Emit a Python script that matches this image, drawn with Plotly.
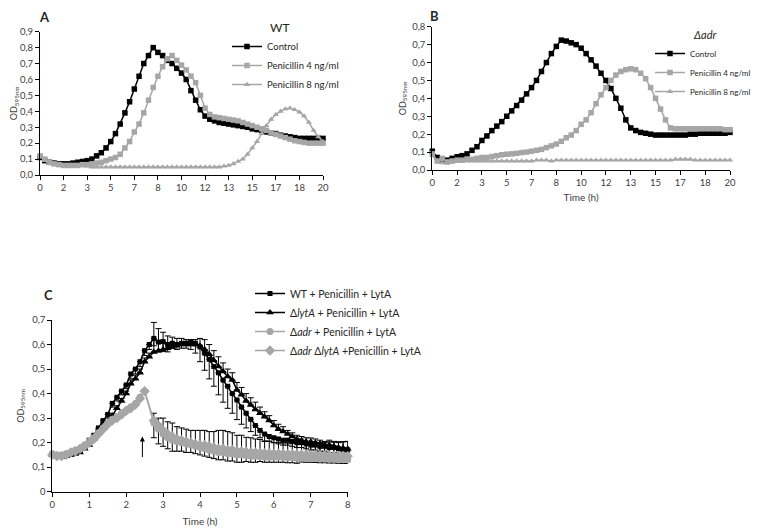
import plotly.graph_objects as go

# ---------------- Panel A (WT) : samples every 20 min, 0-20 h ----------------
time_A = [k / 3 for k in range(61)]
wt_control = [0.11, 0.09, 0.08, 0.075, 0.07, 0.07, 0.07, 0.075, 0.08, 0.085, 0.09, 0.10, 0.12, 0.14, 0.17,
              0.21, 0.26, 0.32, 0.39, 0.46, 0.54, 0.62, 0.70, 0.75, 0.80,
              0.77, 0.75, 0.72, 0.70, 0.67, 0.64, 0.60, 0.53, 0.47, 0.41, 0.37, 0.35, 0.34, 0.33, 0.325, 0.32,
              0.315, 0.31, 0.305, 0.30, 0.29, 0.285, 0.28, 0.27, 0.265, 0.26, 0.25, 0.245, 0.24, 0.235,
              0.23, 0.23, 0.23, 0.23, 0.23, 0.23]
wt_pen4 = [0.12, 0.10, 0.08, 0.07, 0.065, 0.06, 0.06, 0.06, 0.06, 0.065, 0.065, 0.07, 0.075, 0.08, 0.09,
           0.10, 0.11, 0.13, 0.17, 0.21, 0.27, 0.32, 0.39, 0.47, 0.55,
           0.62, 0.68, 0.73, 0.75, 0.72, 0.69, 0.66, 0.62, 0.58, 0.50, 0.42, 0.38, 0.365, 0.36, 0.355, 0.35,
           0.345, 0.34, 0.33, 0.32, 0.31, 0.30, 0.29, 0.28, 0.265, 0.255, 0.245, 0.235, 0.225, 0.215,
           0.21, 0.205, 0.20, 0.20, 0.20, 0.20]
wt_pen8 = [0.12, 0.09, 0.07, 0.065, 0.06, 0.06, 0.06, 0.06, 0.06, 0.06, 0.055, 0.05, 0.05, 0.05, 0.05,
           0.05, 0.05, 0.05, 0.05, 0.05, 0.05, 0.05, 0.05, 0.05, 0.05,
           0.05, 0.05, 0.05, 0.05, 0.05, 0.05, 0.05, 0.05, 0.05, 0.05, 0.05, 0.05, 0.05, 0.05, 0.055, 0.06,
           0.07, 0.085, 0.10, 0.13, 0.17, 0.21, 0.26, 0.31, 0.35, 0.38, 0.40, 0.415, 0.42, 0.41,
           0.395, 0.37, 0.33, 0.28, 0.24, 0.21]

# ---------------- Panel B (delta adr) ----------------
time_B = [k / 3 for k in range(61)]
adr_control = [0.105, 0.07, 0.05, 0.055, 0.065, 0.074, 0.08, 0.09, 0.11, 0.13, 0.165, 0.19, 0.22, 0.245, 0.27,
               0.30, 0.33, 0.36, 0.39, 0.425, 0.46, 0.50, 0.55, 0.60, 0.65,
               0.69, 0.725, 0.72, 0.71, 0.70, 0.68, 0.65, 0.615, 0.58, 0.54, 0.50, 0.455, 0.40, 0.345, 0.28, 0.235,
               0.22, 0.21, 0.205, 0.20, 0.195, 0.195, 0.195, 0.195, 0.195, 0.195, 0.195, 0.20, 0.20, 0.205,
               0.205, 0.205, 0.205, 0.205, 0.205, 0.21]
adr_pen4 = [0.09, 0.05, 0.065, 0.045, 0.05, 0.055, 0.055, 0.06, 0.06, 0.065, 0.07, 0.07, 0.075, 0.08, 0.085,
            0.088, 0.09, 0.093, 0.097, 0.10, 0.105, 0.11, 0.115, 0.125, 0.135,
            0.145, 0.16, 0.18, 0.195, 0.22, 0.255, 0.28, 0.32, 0.37, 0.42, 0.46, 0.50, 0.53, 0.55, 0.56, 0.565,
            0.56, 0.54, 0.51, 0.46, 0.40, 0.34, 0.28, 0.235, 0.23, 0.23, 0.23, 0.23, 0.23, 0.23,
            0.23, 0.23, 0.23, 0.23, 0.225, 0.225]
adr_pen8 = [0.08, 0.05, 0.04, 0.04, 0.045, 0.05, 0.05, 0.05, 0.05, 0.05, 0.05, 0.05, 0.05, 0.05, 0.05,
            0.05, 0.05, 0.05, 0.05, 0.05, 0.05, 0.055, 0.055, 0.055, 0.05,
            0.055, 0.055, 0.055, 0.055, 0.055, 0.055, 0.055, 0.055, 0.055, 0.055, 0.055, 0.055, 0.055, 0.055, 0.055, 0.055,
            0.055, 0.055, 0.055, 0.055, 0.055, 0.055, 0.055, 0.055, 0.06, 0.06, 0.06, 0.06, 0.055, 0.055,
            0.055, 0.055, 0.055, 0.055, 0.055, 0.055]

# ---------------- Panel C : samples every 7.5 min, 0-8 h ----------------
time_C = [k * 0.125 for k in range(65)]
c_wt = [0.155, 0.15, 0.145, 0.15, 0.155, 0.16, 0.17, 0.185, 0.21, 0.23, 0.26, 0.29, 0.315, 0.36, 0.385, 0.41,
        0.435, 0.48, 0.50, 0.53, 0.575, 0.60, 0.625, 0.61, 0.612, 0.60, 0.605, 0.60, 0.605, 0.605, 0.61, 0.605,
        0.59, 0.565, 0.54, 0.51, 0.485, 0.455, 0.43, 0.40, 0.374, 0.345, 0.32, 0.295, 0.27, 0.25, 0.235, 0.225,
        0.22, 0.215, 0.21, 0.21, 0.205, 0.20, 0.20, 0.195, 0.19, 0.19, 0.185, 0.185, 0.18, 0.18, 0.175, 0.17, 0.17]
c_wt_err = [0.01, 0.01, 0.01, 0.01, 0.01, 0.01, 0.01, 0.01, 0.01, 0.01, 0.01, 0.01, 0.015, 0.015, 0.015, 0.015,
            0.015, 0.02, 0.02, 0.02, 0.02, 0.02, 0.03, 0.04, 0.04, 0.03, 0.02, 0.02, 0.02, 0.02, 0.03, 0.04,
            0.06, 0.07, 0.08, 0.08, 0.09, 0.09, 0.09, 0.08, 0.08, 0.07, 0.06, 0.05, 0.04, 0.03, 0.03, 0.02,
            0.02, 0.02, 0.02, 0.02, 0.02, 0.02, 0.02, 0.02, 0.02, 0.02, 0.02, 0.02, 0.02, 0.02, 0.02, 0.02, 0.02]
c_lyta = [0.15, 0.145, 0.14, 0.145, 0.15, 0.155, 0.16, 0.175, 0.19, 0.215, 0.245, 0.265, 0.28, 0.31, 0.34, 0.37,
          0.40, 0.44, 0.46, 0.485, 0.53, 0.55, 0.57, 0.575, 0.58, 0.585, 0.59, 0.595, 0.60, 0.60, 0.60, 0.60,
          0.595, 0.58, 0.56, 0.535, 0.51, 0.49, 0.47, 0.455, 0.415, 0.395, 0.37, 0.353, 0.335, 0.32, 0.306, 0.29,
          0.27, 0.255, 0.245, 0.235, 0.225, 0.215, 0.21, 0.205, 0.204, 0.20, 0.195, 0.19, 0.19, 0.185, 0.18, 0.178, 0.175]
c_lyta_err = [0.01, 0.01, 0.01, 0.01, 0.01, 0.01, 0.01, 0.01, 0.01, 0.01, 0.01, 0.01, 0.01, 0.01, 0.01, 0.01,
              0.01, 0.015, 0.015, 0.015, 0.015, 0.015, 0.12, 0.09, 0.07, 0.05, 0.04, 0.03, 0.025, 0.02, 0.02, 0.02,
              0.03, 0.04, 0.04, 0.04, 0.04, 0.035, 0.03, 0.03, 0.03, 0.03, 0.03, 0.03, 0.03, 0.025, 0.02, 0.02,
              0.02, 0.02, 0.02, 0.015, 0.015, 0.015, 0.015, 0.015, 0.015, 0.015, 0.015, 0.015, 0.02, 0.02, 0.02, 0.025, 0.03]
c_adr = [0.155, 0.15, 0.15, 0.155, 0.16, 0.17, 0.175, 0.19, 0.205, 0.22, 0.24, 0.26, 0.28, 0.295, 0.305, 0.32,
         0.33, 0.345, 0.36, 0.385, 0.41, None, 0.28, 0.255, 0.235, 0.22, 0.21, 0.205, 0.20, 0.195, 0.19, 0.185,
         0.18, 0.175, 0.17, 0.165, 0.16, 0.16, 0.155, 0.155, 0.15, 0.15, 0.148, 0.145, 0.145, 0.143, 0.14, 0.14,
         0.14, 0.14, 0.14, 0.138, 0.138, 0.136, 0.136, 0.135, 0.135, 0.134, 0.133, 0.133, 0.132, 0.132, 0.131, 0.13, 0.13]
c_adr_err = [0.005, 0.005, 0.005, 0.005, 0.005, 0.005, 0.005, 0.005, 0.005, 0.005, 0.005, 0.005, 0.005, 0.005, 0.005, 0.005,
             0.005, 0.005, 0.005, 0.005, 0.005, 0, 0.06, 0.06, 0.05, 0.045, 0.045, 0.04, 0.035, 0.035, 0.03, 0.03,
             0.03, 0.03, 0.03, 0.03, 0.03, 0.03, 0.03, 0.03, 0.03, 0.03, 0.025, 0.025, 0.025, 0.02, 0.02, 0.02,
             0.02, 0.02, 0.02, 0.02, 0.02, 0.02, 0.015, 0.015, 0.015, 0.015, 0.015, 0.015, 0.015, 0.015, 0.015, 0.015, 0.015]
c_adr_lyta = [0.15, 0.145, 0.145, 0.15, 0.16, 0.165, 0.175, 0.185, 0.20, 0.215, 0.235, 0.255, 0.275, 0.29, 0.30, 0.315,
              0.33, 0.34, 0.355, 0.38, 0.41, None, 0.29, 0.27, 0.25, 0.235, 0.225, 0.215, 0.21, 0.205, 0.20, 0.195,
              0.19, 0.19, 0.185, 0.18, 0.175, 0.175, 0.17, 0.17, 0.165, 0.165, 0.162, 0.16, 0.16, 0.158, 0.157, 0.156,
              0.155, 0.155, 0.154, 0.153, 0.153, 0.152, 0.152, 0.151, 0.15, 0.15, 0.149, 0.148, 0.148, 0.147, 0.146, 0.146, 0.145]
c_adr_lyta_err = [0.005, 0.005, 0.005, 0.005, 0.005, 0.005, 0.005, 0.005, 0.005, 0.005, 0.005, 0.005, 0.005, 0.005, 0.005, 0.005,
                  0.005, 0.005, 0.005, 0.005, 0.005, 0, 0.03, 0.03, 0.05, 0.05, 0.055, 0.05, 0.05, 0.05, 0.05, 0.055,
                  0.06, 0.06, 0.06, 0.065, 0.075, 0.075, 0.075, 0.07, 0.065, 0.065, 0.06, 0.06, 0.055, 0.055, 0.05, 0.05,
                  0.045, 0.045, 0.045, 0.045, 0.045, 0.048, 0.048, 0.05, 0.05, 0.05, 0.052, 0.052, 0.055, 0.055, 0.058, 0.058, 0.06]

# ---------------- tick labels ----------------
tick_vals_AB = [k * 20 / 12 for k in range(13)]
tick_text_AB = ["0", "2", "3", "5", "7", "8", "10", "12", "13", "15", "17", "18", "20"]
yticks_A = [0, 0.1, 0.2, 0.3, 0.4, 0.5, 0.6, 0.7, 0.8, 0.9]
yticks_A_text = ["0,0", "0,1", "0,2", "0,3", "0,4", "0,5", "0,6", "0,7", "0,8", "0,9"]
yticks_B = [0, 0.1, 0.2, 0.3, 0.4, 0.5, 0.6, 0.7, 0.8]
yticks_B_text = ["0,0", "0,1", "0,2", "0,3", "0,4", "0,5", "0,6", "0,7", "0,8"]
yticks_C = [0, 0.1, 0.2, 0.3, 0.4, 0.5, 0.6, 0.7]
yticks_C_text = ["0", "0,1", "0,2", "0,3", "0,4", "0,5", "0,6", "0,7"]
xticks_C = [0, 1, 2, 3, 4, 5, 6, 7, 8]

BLACK = "#000000"
GRAY = "#a6a6a6"
FONT = "Lato, 'Liberation Sans', sans-serif"
OFF = 8                      # page body margin
W, H = 760 - OFF, 529 - OFF  # figure size that fits in the window

fig = go.Figure()

def add(x, y, name, color, symbol, size, xa, ya, leg, err=None, err_minus=False):
    kw = {}
    if err is not None:
        if err_minus:
            kw["error_y"] = dict(type="data", symmetric=False, array=[0] * len(err), arrayminus=err,
                                 color="#000000", thickness=1, width=3)
        else:
            kw["error_y"] = dict(type="data", symmetric=False, array=err, arrayminus=[0] * len(err),
                                 color="#000000", thickness=1, width=3)
    fig.add_trace(go.Scatter(x=x, y=y, name=name, mode="lines+markers", connectgaps=True,
                             line=dict(color=color, width=1.5),
                             marker=dict(color=color, symbol=symbol, size=size),
                             xaxis=xa, yaxis=ya, legend=leg, cliponaxis=False, **kw))

add(time_A, wt_control, "Control", BLACK, "square", 5.5, "x", "y", "legend")
add(time_A, wt_pen4, "Penicillin 4 ng/ml", GRAY, "square", 5.5, "x", "y", "legend")
add(time_A, wt_pen8, "Penicillin 8 ng/ml", GRAY, "triangle-up", 5.5, "x", "y", "legend")

add(time_B, adr_control, "Control", BLACK, "square", 5.5, "x2", "y2", "legend2")
add(time_B, adr_pen4, "Penicillin 4 ng/ml", GRAY, "square", 5.5, "x2", "y2", "legend2")
add(time_B, adr_pen8, "Penicillin 8 ng/ml", GRAY, "triangle-up", 5.5, "x2", "y2", "legend2")

add(time_C, c_wt, "WT + Penicillin + LytA", BLACK, "square", 5, "x3", "y3", "legend3", c_wt_err, True)
add(time_C, c_lyta, "Δ<i>lytA</i> + Penicillin + LytA", BLACK, "triangle-up", 7, "x3", "y3", "legend3", c_lyta_err, False)
add(time_C, c_adr, "Δ<i>adr</i> + Penicillin + LytA", GRAY, "circle", 7, "x3", "y3", "legend3", c_adr_err, True)
add(time_C, c_adr_lyta, "Δ<i>adr</i> Δ<i>lytA</i> +Penicillin + LytA", GRAY, "diamond", 8, "x3", "y3", "legend3", c_adr_lyta_err, False)

def px_x(p):
    return (p - OFF) / W

def px_y(p):
    return 1 - (p - OFF) / H

axis_common = dict(showline=True, linecolor="#000000", linewidth=1, ticks="outside", ticklen=4,
                   tickcolor="#000000", showgrid=False, zeroline=False,
                   tickfont=dict(family=FONT, size=9.5, color="#404040"))

def label(text, x, y, size):
    return dict(text=text, x=px_x(x), y=px_y(y), xref="paper", yref="paper", showarrow=False,
                xanchor="center", yanchor="middle", font=dict(size=size, color="#262626"))

fig.update_layout(
    width=W, height=H, paper_bgcolor="white", plot_bgcolor="white",
    margin=dict(l=0, r=0, t=0, b=0, autoexpand=False),
    font=dict(family=FONT, color="#262626"),
    xaxis=dict(domain=[px_x(40), px_x(323)], range=[0, 20], tickvals=tick_vals_AB, ticktext=tick_text_AB,
               anchor="y", **axis_common),
    yaxis=dict(domain=[px_y(175), px_y(31.7)], range=[0, 0.9], tickvals=yticks_A, ticktext=yticks_A_text,
               anchor="x", title=dict(text="OD<sub>595nm</sub>", font=dict(size=9, color="#404040"), standoff=4),
               **axis_common),
    xaxis2=dict(domain=[px_x(432.3), px_x(730)], range=[0, 20], tickvals=tick_vals_AB, ticktext=tick_text_AB,
                anchor="y2", title=dict(text="Time (h)", font=dict(size=10, color="#404040"), standoff=6),
                **axis_common),
    yaxis2=dict(domain=[px_y(170), px_y(26.7)], range=[0, 0.8], tickvals=yticks_B, ticktext=yticks_B_text,
                anchor="x2", title=dict(text="OD<sub>595nm</sub>", font=dict(size=9, color="#404040"), standoff=4),
                **axis_common),
    xaxis3=dict(domain=[px_x(52.3), px_x(347.7)], range=[0, 8], tickvals=xticks_C,
                anchor="y3", title=dict(text="Time (h)", font=dict(size=10, color="#404040"), standoff=8),
                **axis_common),
    yaxis3=dict(domain=[px_y(491.7), px_y(320)], range=[0, 0.7], tickvals=yticks_C, ticktext=yticks_C_text,
                anchor="x3", title=dict(text="OD<sub>595nm</sub>", font=dict(size=9, color="#404040"), standoff=6),
                **axis_common),
    legend=dict(x=px_x(227), y=px_y(32), xanchor="left", yanchor="top", bgcolor="rgba(0,0,0,0)",
                font=dict(size=9.5, color="#262626"), tracegroupgap=0),
    legend2=dict(x=px_x(650), y=px_y(39), xanchor="left", yanchor="top", bgcolor="rgba(0,0,0,0)",
                 font=dict(size=8, color="#262626"), tracegroupgap=0),
    legend3=dict(x=px_x(250), y=px_y(279), xanchor="left", yanchor="top", bgcolor="rgba(0,0,0,0)",
                 font=dict(size=10.5, color="#262626"), tracegroupgap=0),
    showlegend=True,
    annotations=[
        label("<b>A</b>", 44, 17, 13),
        label("<b>B</b>", 434, 16, 13),
        label("<b>C</b>", 48, 295, 13),
        label("WT", 280, 28, 12),
        label("<i>Δadr</i>", 704, 34, 11),
        dict(x=2.44, y=0.225, ax=2.44, ay=0.135, xref="x3", yref="y3", axref="x3", ayref="y3",
             text="", showarrow=True, arrowhead=2, arrowsize=1, arrowwidth=1, arrowcolor="#000000"),
    ],
)

fig.write_html("out.html")
